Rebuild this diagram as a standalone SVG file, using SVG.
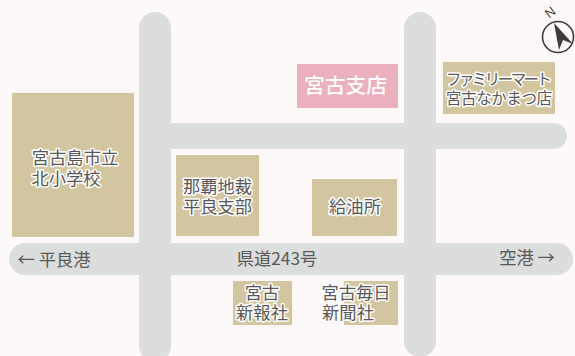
<svg xmlns="http://www.w3.org/2000/svg" width="575" height="356" viewBox="0 0 575 356">
<style>
.r{fill:#dcdedd}
.b{fill:#d3c69e}
text{font-family:"Noto Sans CJK JP","Noto Sans",sans-serif;font-size:17.3px;text-anchor:middle}
.h{fill:#595757;stroke:#fff;stroke-width:3px;paint-order:stroke;stroke-linejoin:round}
.p{fill:#595757}
</style>
<rect width="575" height="356" fill="#fdf9f8"/>
<g id="connectors">
<rect class="r" x="139" y="12" width="32" height="350" rx="16"/>
<rect class="r" x="404" y="12" width="32" height="345" rx="16"/>
<rect class="r" x="150" y="123" width="417" height="26" rx="13"/>
<rect class="r" x="9" y="243" width="564" height="32" rx="16"/>
</g>
<g id="school"><rect class="b" x="12" y="93" width="122" height="144"/><text class="h" x="75" y="164">宮古島市立</text><text class="h" x="66" y="185">北小学校</text></g>
<g id="naha"><rect class="b" x="176" y="155" width="83" height="81"/><text class="h" x="217.500" y="193">那覇地裁</text><text class="h" x="217.500" y="213">平良支部</text></g>
<g id="gas"><rect class="b" x="312" y="179" width="85" height="57"/><text class="h" x="355" y="213">給油所</text></g>
<g id="branch"><rect fill="#ecafbe" x="297" y="64" width="101" height="44"/><text x="345.500" y="93" fill="#fff" font-weight="500" style="font-size:20.800px">宮古支店</text></g>
<g id="family"><rect class="b" x="443" y="62" width="112" height="52"/><text class="h" x="499" y="85" style="font-size:15.500px" textLength="106">ファミリーマート</text><text class="h" x="499" y="104" style="font-size:15.500px" textLength="106">宮古なかまつ店</text></g>
<g id="shinpo"><rect class="b" x="233" y="281" width="59" height="44"/><text class="h" x="262" y="299">宮古</text><text class="h" x="262" y="319">新報社</text></g>
<g id="mainichi"><rect class="b" x="344" y="281" width="54" height="44"/><text class="h" x="356" y="299">宮古毎日</text><text class="h" x="348" y="319">新聞社</text></g>
<g id="labels">
<text class="p" x="54" y="266">← 平良港</text>
<text class="p" x="277" y="265">県道243号</text>
<text class="p" x="527" y="264">空港 →</text>
</g>
<g id="north">
<circle cx="558" cy="37" r="15.500" fill="none" stroke="#3e3a39" stroke-width="1.600"/>
<path d="M554 23 L573 44 L563 40 L559 50 Z" fill="#3e3a39"/>
<text x="550" y="17" fill="#3e3a39" transform="rotate(-38 550 12)" style="font-size:13px;font-family:'Liberation Sans',sans-serif">N</text>
</g>
</svg>
